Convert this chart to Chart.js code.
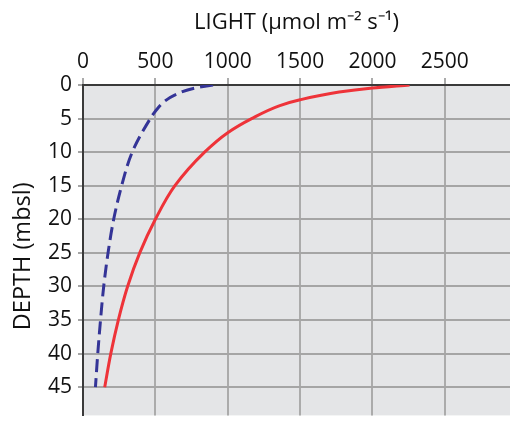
<!DOCTYPE html>
<html>
<head>
<meta charset="utf-8">
<script src="https://cdn.jsdelivr.net/npm/chart.js@4/dist/chart.umd.min.js"></script>
<style>
  html, body { margin: 0; padding: 0; background: #fff; }
  #wrap { width: 510px; height: 434px; }
</style>
</head>
<body>
<div id="wrap"><canvas id="light_chart"></canvas></div>
<script>
// depth (m below sea level) and light (umol m-2 s-1)
var redDepth   = [0, 0.45, 1.05, 2.2, 3.06, 5, 7.1, 10, 15, 20, 25, 30, 35, 40, 45];
var redLight   = [2256, 2000, 1770, 1500, 1360, 1165, 1000, 840, 635, 500, 392, 308, 244, 192, 150];
var blueDepth  = [0, 0.45, 1.5, 2.4, 3.9, 5, 10, 15, 20, 25, 30, 35, 40, 45];
var blueLight  = [898, 773, 633, 565, 500, 465, 340, 267, 212, 173, 143, 121, 102, 86];
var lightTicks = [0, 500, 1000, 1500, 2000, 2500];
var depthTicks = [0, 5, 10, 15, 20, 25, 30, 35, 40, 45];

function toPoints(depths, lights) {
    return depths.map(function (d, i) { return { x: lights[i], y: d }; });
}

var plotBg = {
    id: 'plotBg',
    beforeDraw: function (chart) {
        var a = chart.chartArea, ctx = chart.ctx;
        ctx.save();
        ctx.fillStyle = '#e4e5e7';
        ctx.fillRect(a.left, a.top, a.right - a.left, a.bottom - a.top);
        ctx.restore();
    }
};

var FONT = "'Open Sans', sans-serif";

new Chart(document.getElementById('light_chart'), {
    type: 'line',
    data: {
        datasets: [
            {
                data: toPoints(redDepth, redLight),
                borderColor: '#ee3339',
                borderWidth: 3,
                pointRadius: 0,
                cubicInterpolationMode: 'monotone',
                fill: false
            },
            {
                data: toPoints(blueDepth, blueLight),
                borderColor: '#343497',
                borderWidth: 3,
                borderDash: [13, 6],
                pointRadius: 0,
                cubicInterpolationMode: 'monotone',
                fill: false
            }
        ]
    },
    options: {
        indexAxis: 'y',
        responsive: true,
        maintainAspectRatio: false,
        animation: false,
        layout: { padding: 0 },
        plugins: { legend: { display: false }, tooltip: { enabled: false } },
        scales: {
            x: {
                type: 'linear',
                position: 'top',
                min: 0,
                max: 2950,
                afterBuildTicks: function (s) {
                    s.ticks = lightTicks.map(function (v) { return { value: v }; });
                },
                afterFit: function (s) { s.height = 85; },
                ticks: {
                    color: '#111', font: { family: FONT, size: 21 }, padding: 3, maxRotation: 0,
                    callback: function (v) { return String(v); }
                },
                grid: { color: '#ababab', lineWidth: 2, tickLength: 7, tickColor: '#ababab' },
                border: { color: '#3a3a3a', width: 2 },
                title: {
                    display: true,
                    text: 'LIGHT (\u00b5mol m\u207b\u00b2 s\u207b\u00b9)',
                    color: '#111',
                    font: { family: FONT, size: 22 },
                    padding: { top: 10, bottom: 0 }
                }
            },
            y: {
                type: 'linear',
                reverse: true,
                min: 0,
                max: 49.2,
                afterBuildTicks: function (s) {
                    s.ticks = depthTicks.map(function (v) { return { value: v }; });
                },
                afterFit: function (s) { s.width = 83; },
                ticks: {
                    color: '#111', font: { family: FONT, size: 21 }, padding: 6,
                    callback: function (v) { return String(v); }
                },
                grid: { color: '#a5a5a5', lineWidth: 2, tickLength: 5, tickColor: '#a5a5a5' },
                border: { color: '#3a3a3a', width: 2 },
                title: {
                    display: true,
                    text: 'DEPTH (mbsl)  ',
                    color: '#111',
                    font: { family: FONT, size: 23.5 },
                    padding: { top: 9, bottom: 0 }
                }
            }
        }
    },
    plugins: [plotBg]
});
</script>
</body>
</html>
